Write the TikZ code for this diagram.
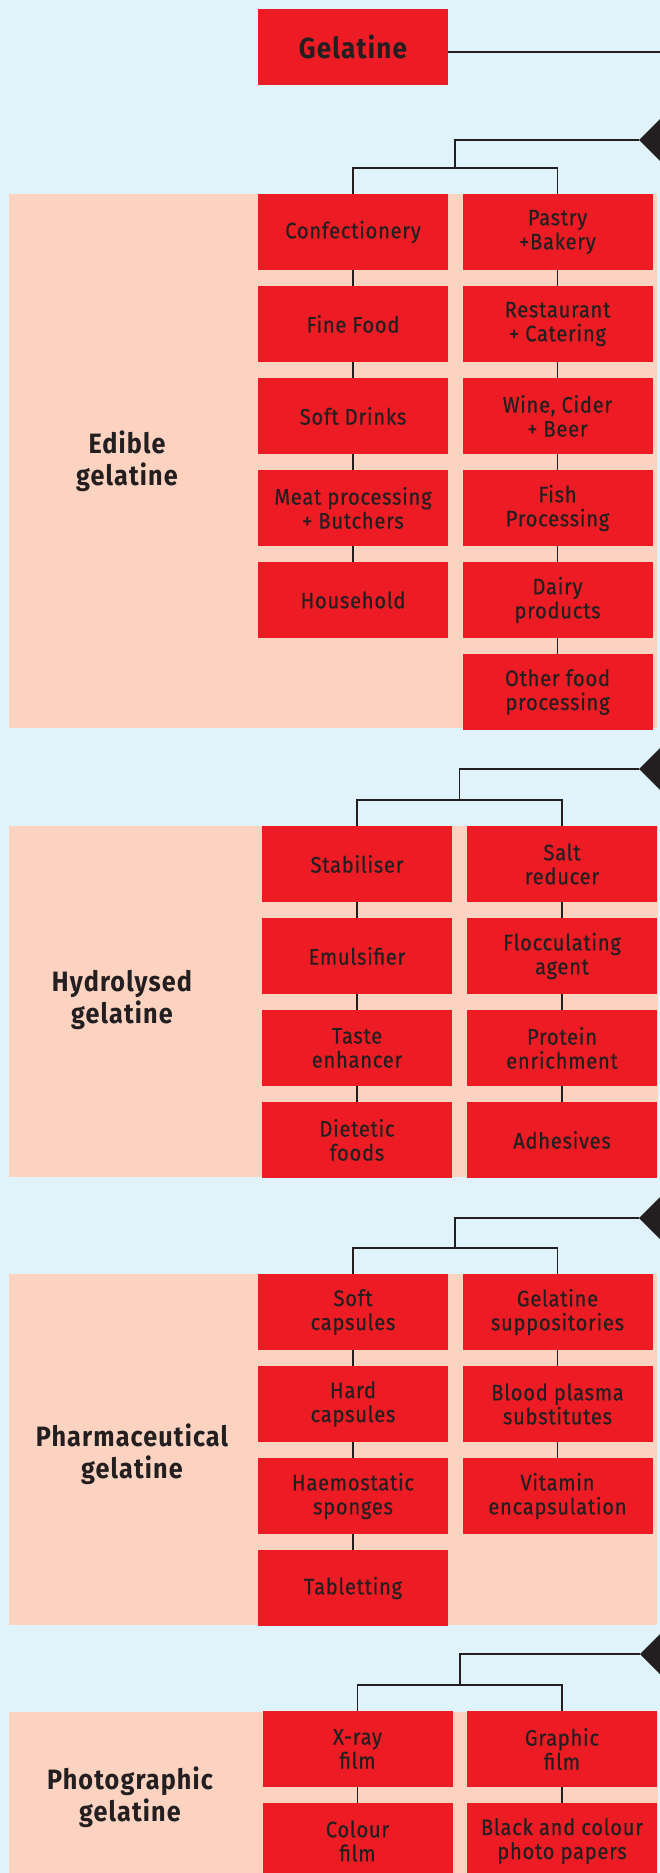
\documentclass[tikz,border=0pt]{standalone}
\usepackage{fontspec}
\setmainfont{Fira Sans}[FakeStretch=0.85]
\newfontfamily\boxfont{Fira Sans}[FakeStretch=0.9,LetterSpace=3,FakeBold=0.4]
\newfontfamily\headfont{Fira Sans}[FakeStretch=0.9,LetterSpace=4]
\definecolor{skyback}{HTML}{E0F3FB}
\definecolor{peach}{HTML}{FCD3C1}
\definecolor{gelred}{HTML}{ED1C24}
\definecolor{inkdark}{HTML}{231F20}
\tikzset{
  appbox/.style={fill=gelred,text=inkdark,minimum width=190pt,minimum height=76pt,inner sep=0pt,align=center,font=\boxfont\fontsize{22.5}{24}\selectfont},
  grouplabel/.style={text=inkdark,align=center,font=\headfont\fontsize{28}{31.5}\selectfont\bfseries},
  titlebox/.style={fill=gelred,text=inkdark,minimum width=190pt,minimum height=76pt,inner sep=0pt,font=\headfont\fontsize{29}{31}\selectfont\bfseries},
  conn/.style={draw=inkdark,line width=1.4pt},
  tipmark/.style={fill=inkdark}
}
\begin{document}
\begin{tikzpicture}[x=1pt,y=-1pt]
\useasboundingbox (0,0) rectangle (660,1873);
\clip (0,0) rectangle (660,1873);
\fill[skyback] (0,0) rectangle (660,1873);
% top
\node[titlebox] (gel) at (353,47) {Gelatine};
\coordinate (gelend) at (660,52);
\draw[conn] ([yshift=-5pt]gel.east) -- (gelend);
% edible
\fill[peach] (9,194) rectangle (657,728);
\node[grouplabel] (edible) at (127,461) {Edible\\gelatine};
\node[appbox] (eL1) at (353,232) {Confectionery};
\node[appbox] (eL2) at (353,324) {Fine Food};
\node[appbox] (eL3) at (353,416) {Soft Drinks};
\node[appbox] (eL4) at (353,508) {Meat processing\\+ Butchers};
\node[appbox] (eL5) at (353,600) {Household};
\node[appbox] (eR1) at (557.5,232) {Pastry\\+Bakery};
\node[appbox] (eR2) at (557.5,324) {Restaurant\\+ Catering};
\node[appbox] (eR3) at (557.5,416) {Wine, Cider\\+ Beer};
\node[appbox] (eR4) at (557.5,508) {Fish\\Processing};
\node[appbox] (eR5) at (557.5,600) {Dairy\\products};
\node[appbox] (eR6) at (557.5,692) {Other food\\processing};
\draw[conn] (eL1) -- (eL2) -- (eL3) -- (eL4) -- (eL5);
\draw[conn] (eR1) -- (eR2) -- (eR3) -- (eR4) -- (eR5) -- (eR6);
\coordinate (tipA) at (639,140);
\coordinate (forkA) at (455,168);
\fill[tipmark] (tipA) -- ++(22,-22) -- ++(22,22) -- ++(-22,22) -- cycle;
\draw[conn] (tipA) -| (forkA);
\draw[conn] (eL1.north) -- ++(0,-26) -| (eR1.north);
% hydrolysed
\fill[peach] (9,826) rectangle (658,1177);
\node[grouplabel] (hydro) at (122,1000) {Hydrolysed\\gelatine};
\node[appbox] (hL1) at (357,864) {Stabiliser};
\node[appbox] (hL2) at (357,956) {Emulsifier};
\node[appbox] (hL3) at (357,1048) {Taste\\enhancer};
\node[appbox] (hL4) at (357,1140) {Dietetic\\foods};
\node[appbox] (hR1) at (562,864) {Salt\\reducer};
\node[appbox] (hR2) at (562,956) {Flocculating\\agent};
\node[appbox] (hR3) at (562,1048) {Protein\\enrichment};
\node[appbox] (hR4) at (562,1140) {Adhesives};
\draw[conn] (hL1) -- (hL2) -- (hL3) -- (hL4);
\draw[conn] (hR1) -- (hR2) -- (hR3) -- (hR4);
\coordinate (tipB) at (639,769);
\coordinate (forkB) at (459.5,800);
\fill[tipmark] (tipB) -- ++(22,-22) -- ++(22,22) -- ++(-22,22) -- cycle;
\draw[conn] (tipB) -| (forkB);
\draw[conn] (hL1.north) -- ++(0,-26) -| (hR1.north);
% pharmaceutical
\fill[peach] (9,1274) rectangle (657,1625);
\node[grouplabel] (pharma) at (132,1454) {Pharmaceutical\\gelatine};
\node[appbox] (pL1) at (353,1312) {Soft\\capsules};
\node[appbox] (pL2) at (353,1404) {Hard\\capsules};
\node[appbox] (pL3) at (353,1496) {Haemostatic\\sponges};
\node[appbox] (pL4) at (353,1588) {Tabletting};
\node[appbox] (pR1) at (557.5,1312) {Gelatine\\suppositories};
\node[appbox] (pR2) at (557.5,1404) {Blood plasma\\substitutes};
\node[appbox] (pR3) at (557.5,1496) {Vitamin\\encapsulation};
\draw[conn] (pL1) -- (pL2) -- (pL3) -- (pL4);
\draw[conn] (pR1) -- (pR2) -- (pR3);
\coordinate (tipC) at (639,1218);
\coordinate (forkC) at (455,1248);
\fill[tipmark] (tipC) -- ++(22,-22) -- ++(22,22) -- ++(-22,22) -- cycle;
\draw[conn] (tipC) -| (forkC);
\draw[conn] (pL1.north) -- ++(0,-26) -| (pR1.north);
% photographic
\fill[peach] (9,1712) rectangle (658,1880);
\node[grouplabel] (photo) at (130,1797) {Photographic\\gelatine};
\node[appbox] (fL1) at (357.5,1749) {X-ray\\film};
\node[appbox] (fL2) at (357.5,1841) {Colour\\film};
\node[appbox] (fR1) at (562,1749) {Graphic\\film};
\node[appbox] (fR2) at (562,1841) {Black and colour\\photo papers};
\draw[conn] (fL1) -- (fL2);
\draw[conn] (fR1) -- (fR2);
\coordinate (tipD) at (640,1654);
\coordinate (forkD) at (460,1685);
\fill[tipmark] (tipD) -- ++(22,-22) -- ++(22,22) -- ++(-22,22) -- cycle;
\draw[conn] (tipD) -| (forkD);
\draw[conn] (fL1.north) -- ++(0,-26) -| (fR1.north);
\end{tikzpicture}
\end{document}
